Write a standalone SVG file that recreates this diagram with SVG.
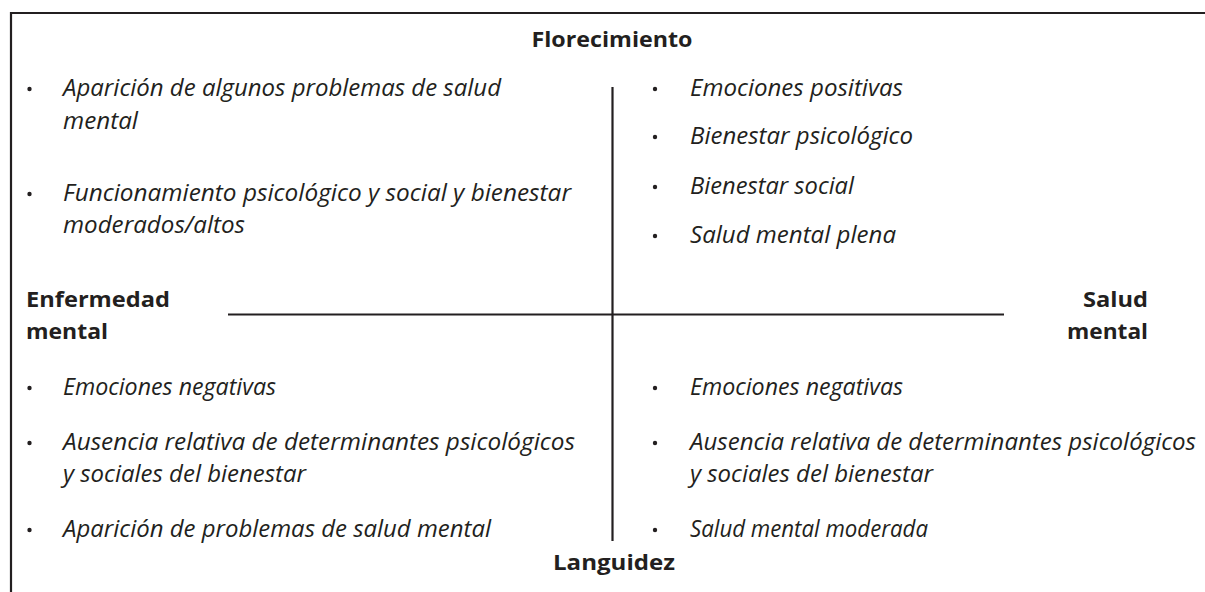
<svg xmlns="http://www.w3.org/2000/svg" width="1205" height="592" viewBox="0 0 1205 592">
<style>
.it{font-family:"Open Sans","Noto Sans","Liberation Sans",sans-serif;font-style:italic;font-size:23px;fill:#231f20;}
.b{font-family:"Open Sans","Noto Sans","Liberation Sans",sans-serif;font-weight:bold;font-size:22px;fill:#231f20;}
.ax{stroke:#231f20;stroke-width:2.2;fill:none;}
.dot{fill:#231f20;}
</style>
<rect width="1205" height="592" fill="#ffffff"/>
<g id="frame">
<path class="ax" d="M11 592 V13 H1205"/>
</g>
<g id="connectors">
<line class="ax" x1="612.5" y1="87" x2="612.5" y2="541"/>
<line class="ax" x1="228" y1="314.5" x2="1004" y2="314.5"/>
</g>
<g id="florecimiento">
<text class="b" x="612" y="47" text-anchor="middle" textLength="161" lengthAdjust="spacingAndGlyphs">Florecimiento</text>
</g>
<g id="languidez">
<text class="b" x="614" y="570" text-anchor="middle" textLength="122" lengthAdjust="spacingAndGlyphs">Languidez</text>
</g>
<g id="enfermedad-mental">
<text class="b" x="26" y="307" textLength="144" lengthAdjust="spacingAndGlyphs">Enfermedad</text>
<text class="b" x="26" y="339" textLength="82" lengthAdjust="spacingAndGlyphs">mental</text>
</g>
<g id="salud-mental">
<text class="b" x="1148" y="307" text-anchor="end" textLength="65" lengthAdjust="spacingAndGlyphs">Salud</text>
<text class="b" x="1148" y="339" text-anchor="end" textLength="81" lengthAdjust="spacingAndGlyphs">mental</text>
</g>
<g id="q-top-left">
<circle class="dot" cx="29.5" cy="89" r="2.2"/>
<text class="it" x="63" y="96" textLength="438" lengthAdjust="spacingAndGlyphs">Aparición de algunos problemas de salud</text>
<text class="it" x="63" y="129" textLength="75" lengthAdjust="spacingAndGlyphs">mental</text>
<circle class="dot" cx="29.5" cy="194" r="2.2"/>
<text class="it" x="63" y="201" textLength="508" lengthAdjust="spacingAndGlyphs">Funcionamiento psicológico y social y bienestar</text>
<text class="it" x="63" y="233" textLength="182" lengthAdjust="spacingAndGlyphs">moderados/altos</text>
</g>
<g id="q-top-right">
<circle class="dot" cx="655" cy="89" r="2.2"/>
<text class="it" x="690" y="96" textLength="213" lengthAdjust="spacingAndGlyphs">Emociones positivas</text>
<circle class="dot" cx="655" cy="137" r="2.2"/>
<text class="it" x="690" y="144" textLength="223" lengthAdjust="spacingAndGlyphs">Bienestar psicológico</text>
<circle class="dot" cx="655" cy="187" r="2.2"/>
<text class="it" x="690" y="194" textLength="164" lengthAdjust="spacingAndGlyphs">Bienestar social</text>
<circle class="dot" cx="655" cy="236" r="2.2"/>
<text class="it" x="690" y="243" textLength="206" lengthAdjust="spacingAndGlyphs">Salud mental plena</text>
</g>
<g id="q-bottom-left">
<circle class="dot" cx="29.5" cy="388" r="2.2"/>
<text class="it" x="63" y="395" textLength="213" lengthAdjust="spacingAndGlyphs">Emociones negativas</text>
<circle class="dot" cx="29.5" cy="443" r="2.2"/>
<text class="it" x="63" y="450" textLength="512" lengthAdjust="spacingAndGlyphs">Ausencia relativa de determinantes psicológicos</text>
<text class="it" x="63" y="482" textLength="243" lengthAdjust="spacingAndGlyphs">y sociales del bienestar</text>
<circle class="dot" cx="29.5" cy="530" r="2.2"/>
<text class="it" x="63" y="537" textLength="428" lengthAdjust="spacingAndGlyphs">Aparición de problemas de salud mental</text>
</g>
<g id="q-bottom-right">
<circle class="dot" cx="655" cy="388" r="2.2"/>
<text class="it" x="690" y="395" textLength="213" lengthAdjust="spacingAndGlyphs">Emociones negativas</text>
<circle class="dot" cx="655" cy="443" r="2.2"/>
<text class="it" x="690" y="450" textLength="506" lengthAdjust="spacingAndGlyphs">Ausencia relativa de determinantes psicológicos</text>
<text class="it" x="690" y="482" textLength="243" lengthAdjust="spacingAndGlyphs">y sociales del bienestar</text>
<circle class="dot" cx="655" cy="530" r="2.2"/>
<text class="it" x="690" y="537" textLength="238" lengthAdjust="spacingAndGlyphs">Salud mental moderada</text>
</g>
</svg>
